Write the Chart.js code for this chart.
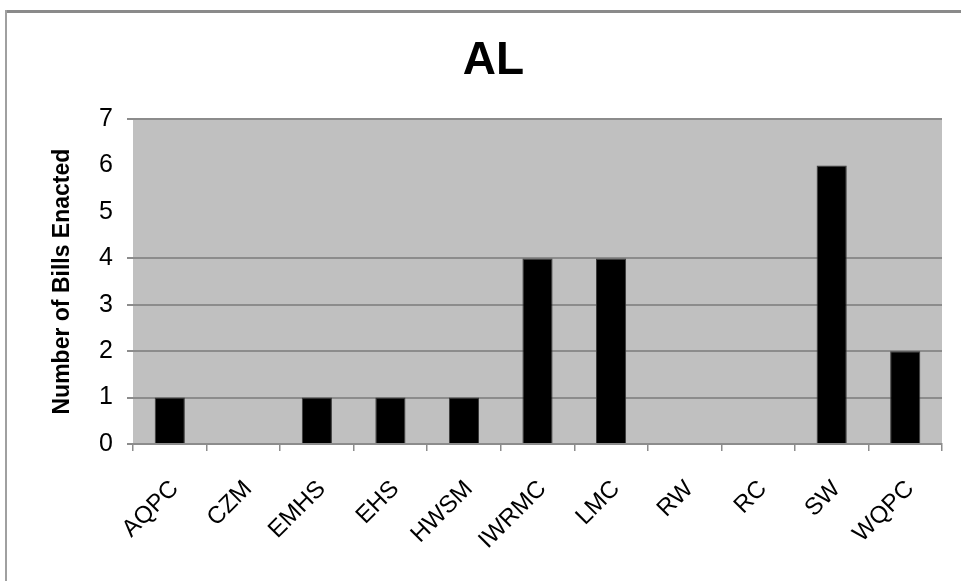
<!DOCTYPE html>
<html>
<head>
<meta charset="utf-8">
<script src="https://cdn.jsdelivr.net/npm/chart.js@4.4.1/dist/chart.umd.min.js"></script>
<style>
  html, body { margin: 0; padding: 0; background: #fff; }
  #wrap { width: 961px; height: 581px; position: relative; }
</style>
</head>
<body>
<div id="wrap"><canvas id="billsChart" width="961" height="581"></canvas></div>
<script>
// bills enacted per program area, state AL
const categories = ['AQPC', 'CZM', 'EMHS', 'EHS', 'HWSM', 'IWRMC', 'LMC', 'RW', 'RC', 'SW', 'WQPC'];
const billsEnacted = [1, 0, 1, 1, 1, 4, 4, 0, 0, 6, 2];
const yMin = 0;
const yMax = 7;
// gridlines that are missing in the original picture
const hiddenGridValues = [5, 6];

var color_plot = '#c0c0c0';
var color_grid = '#8c8c8c';
var color_frame = '#8a8a8a';
const fontFamily = "'Liberation Sans', Arial, sans-serif";

// grey plot area and the outer chart frame
const backdrop = {
    id: 'backdrop',
    beforeDraw(chart) {
        const { ctx, chartArea } = chart;
        ctx.save();
        ctx.fillStyle = color_plot;
        ctx.fillRect(chartArea.left, chartArea.top, chartArea.right - chartArea.left, chartArea.bottom - chartArea.top);
        ctx.strokeStyle = color_frame;
        ctx.lineWidth = 3;
        ctx.beginPath();
        ctx.moveTo(5, 11.5);
        ctx.lineTo(chart.width, 11.5);
        ctx.stroke();
        ctx.strokeStyle = '#a0a0a0';
        ctx.lineWidth = 2;
        ctx.beginPath();
        ctx.moveTo(6, 10);
        ctx.lineTo(6, chart.height);
        ctx.stroke();
        ctx.restore();
    }
};

const gridColor = (ctx) => hiddenGridValues.includes(ctx.tick && ctx.tick.value) ? 'rgba(0,0,0,0)' : color_grid;

const config = {
    type: 'bar',
    data: {
        labels: categories,
        datasets: [{
            label: 'Number of Bills Enacted',
            data: billsEnacted,
            backgroundColor: '#000',
            borderColor: '#3a3a3a',
            borderWidth: 1,
            barPercentage: 0.41,
            categoryPercentage: 1
        }]
    },
    options: {
        responsive: false,
        animation: false,
        layout: { padding: { left: 45, right: 19, top: 12, bottom: 0 } },
        plugins: {
            legend: { display: false },
            tooltip: { enabled: false },
            title: {
                display: true,
                text: 'AL',
                color: '#000',
                font: { family: fontFamily, size: 46, weight: 'bold' },
                padding: { top: 22, bottom: 30 }
            }
        },
        scales: {
            x: {
                afterFit(scale) { scale.height = 137; },
                grid: {
                    offset: true,
                    drawOnChartArea: false,
                    drawTicks: true,
                    tickLength: 7,
                    color: color_grid,
                    lineWidth: 1.5
                },
                border: { display: true, color: color_grid, width: 2 },
                ticks: {
                    minRotation: 45,
                    maxRotation: 45,
                    autoSkip: false,
                    padding: 24,
                    labelOffset: 5,
                    color: '#000',
                    font: { family: fontFamily, size: 24 }
                }
            },
            y: {
                min: yMin,
                max: yMax,
                afterFit(scale) { scale.width = 88; },
                grid: {
                    color: gridColor,
                    lineWidth: 2,
                    tickLength: 6,
                    drawTicks: true
                },
                border: { display: false },
                ticks: {
                    stepSize: 1,
                    padding: 14,
                    color: '#000',
                    font: { family: fontFamily, size: 25 }
                },
                title: {
                    display: true,
                    text: 'Number of Bills Enacted',
                    color: '#000',
                    padding: { top: 4, bottom: 0 },
                    font: { family: fontFamily, size: 23, weight: 'bold' }
                }
            }
        }
    },
    plugins: [backdrop]
};

const chart = new Chart(document.getElementById('billsChart').getContext('2d'), config);
</script>
</body>
</html>
